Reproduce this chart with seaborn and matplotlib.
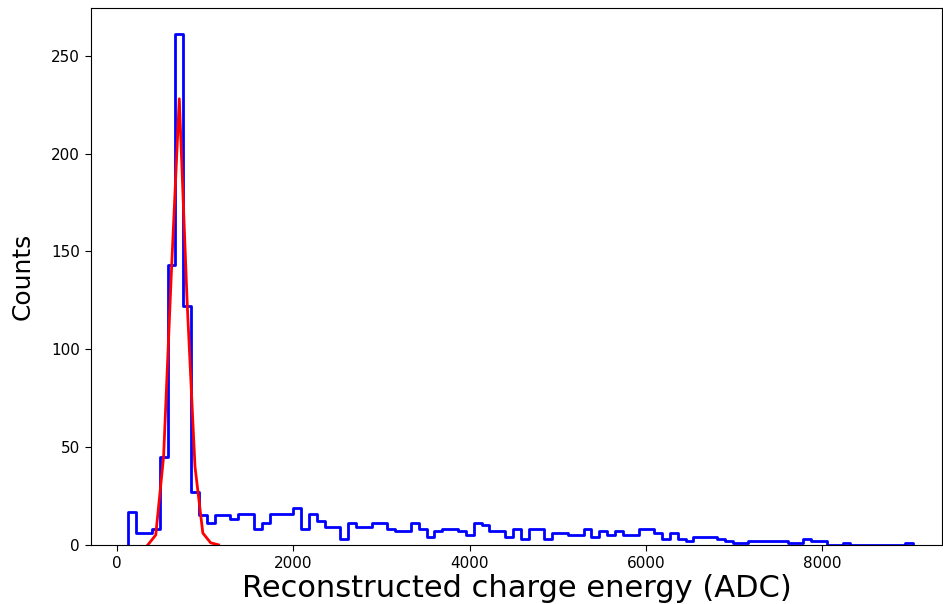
import numpy as np
import pandas as pd
import matplotlib
matplotlib.use("Agg")
import matplotlib.pyplot as plt
import seaborn as sns

# --- histogram data (counts per bin) ---
bin_lo, bin_hi, n_bins = 125.0, 9035.0, 100
counts = [17, 6, 6, 8, 45, 143, 261, 122, 27, 15,
          11, 15, 15, 13, 16, 16, 8, 11, 16, 16,
          16, 19, 8, 16, 12, 9, 9, 3, 11, 9,
          9, 11, 11, 8, 7, 7, 11, 8, 4, 7,
          8, 8, 7, 5, 11, 10, 7, 7, 4, 8,
          3, 8, 8, 3, 6, 6, 5, 5, 8, 4,
          7, 5, 7, 5, 5, 8, 8, 6, 3, 6,
          3, 2, 4, 4, 4, 3, 2, 1, 1, 2,
          2, 2, 2, 2, 1, 1, 3, 2, 2, 0,
          0, 1, 0, 0, 0, 0, 0, 0, 0, 1]

# gaussian fit evaluated at the centres of bins 2..11
fit_first_bin = 2
fit_values = [0, 5, 45, 140, 228, 124, 40, 6, 1, 0]

edges = np.linspace(bin_lo, bin_hi, n_bins + 1)
centers = (edges[:-1] + edges[1:]) / 2
# zero-width bins at both ends so the step outline closes down to zero
# (a plain list: seaborn compares bins to "auto" when weights are given)
edges_closed = [float(edges[0])] + [float(e) for e in edges] + [float(edges[-1])]

df = pd.DataFrame({"energy": centers, "counts": counts})
fit_df = pd.DataFrame({
    "energy": centers[fit_first_bin:fit_first_bin + len(fit_values)],
    "fit": fit_values,
})

fig, ax = plt.subplots(figsize=(9.43, 6.04), dpi=100)
fig.subplots_adjust(left=0.0965, right=0.999, bottom=0.098, top=0.987)

sns.histplot(data=df, x="energy", weights="counts", bins=edges_closed,
             element="step", fill=False, color="blue", linewidth=2, ax=ax)
sns.lineplot(data=fit_df, x="energy", y="fit", color="red", linewidth=2, ax=ax)

ax.set_xlim(-298, 9362)
ax.set_ylim(0, 274.5)
ax.set_xticks([0, 2000, 4000, 6000, 8000])
ax.set_yticks([0, 50, 100, 150, 200, 250])
ax.tick_params(labelsize=11, length=4.5)
ax.set_xlabel("Reconstructed charge energy (ADC)", fontsize=22, labelpad=2)
ax.set_ylabel("Counts", fontsize=18, labelpad=12)

fig.savefig("out.png", dpi=100)
